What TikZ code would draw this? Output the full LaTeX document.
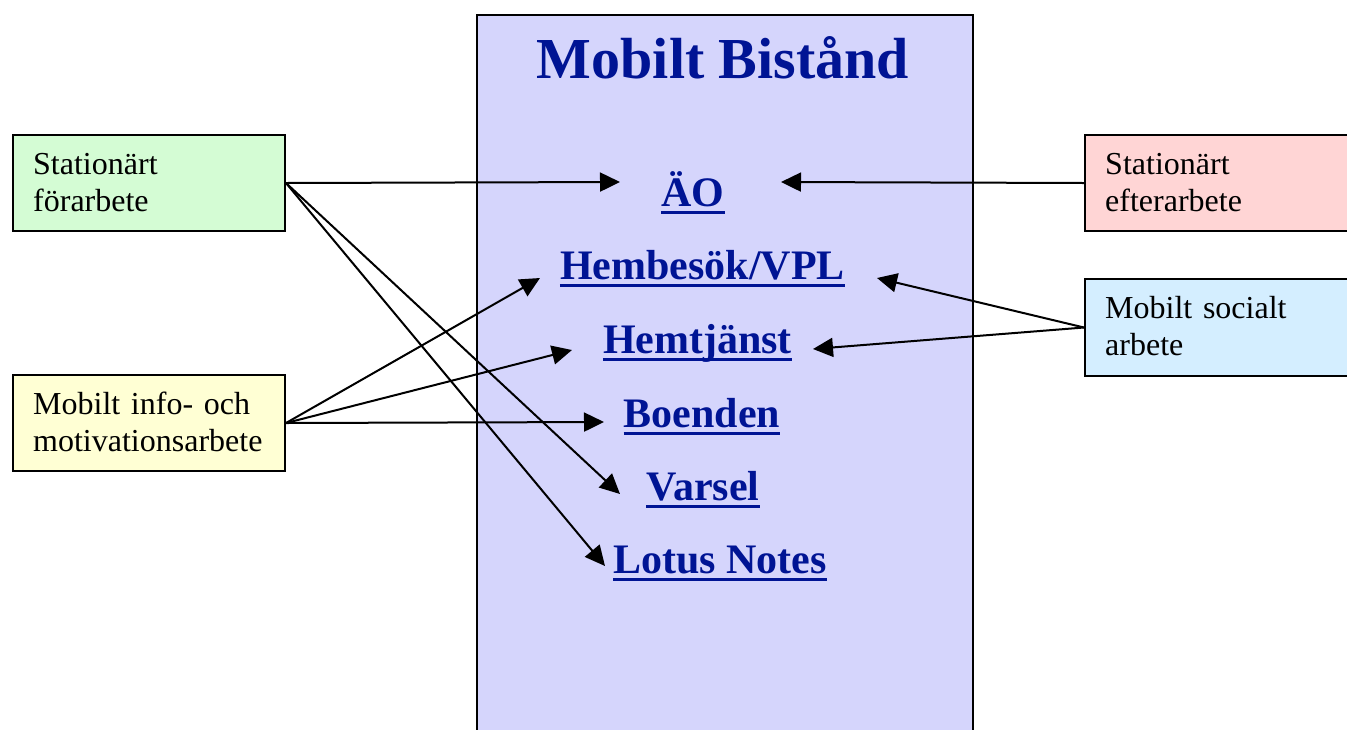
\documentclass[tikz,border=0pt]{standalone}
\usepackage{fontspec}
\setmainfont{Liberation Serif}
\usetikzlibrary{arrows.meta}
\definecolor{greenbg}{RGB}{212,252,212}
\definecolor{yellowbg}{RGB}{255,255,212}
\definecolor{pinkbg}{RGB}{255,213,213}
\definecolor{cyanbg}{RGB}{212,238,255}
\definecolor{mainbg}{RGB}{213,213,252}
\definecolor{itemblue}{RGB}{0,20,148}
\begin{document}
\begin{tikzpicture}[x=1pt,y=-1pt,
  box/.style={draw=black, line width=2pt, minimum width=272pt, minimum height=96pt, anchor=north west, inner sep=0pt},
  btxt/.style={anchor=base west, align=left, text width=250pt, inner sep=0pt, font=\fontsize{32}{37}\selectfont},
  item/.style={anchor=base, inner sep=0pt, text=itemblue, font=\fontsize{42}{48}\selectfont\bfseries},
  uline/.style={draw=itemblue, line width=3.3pt},
  conn/.style={line width=2pt, -{Triangle[length=20pt,width=19pt]}}]
\clip (0,0) rectangle (1347,729);
% main box
\node[draw=black, line width=2pt, fill=mainbg, minimum width=496pt, minimum height=760pt, anchor=north west, inner sep=0pt] (mb) at (476,14) {};
\node[anchor=base, inner sep=0pt, text=itemblue, font=\fontsize{58}{64}\selectfont\bfseries] (title) at (723,78) {Mobilt Bistånd};
% items
\node[item] (ao) at (693,206) {ÄO};
\node[item] (hb) at (702.5,279) {Hembesök/VPL};
\node[item] (ht) at (697.5,353) {Hemtjänst};
\node[item] (bo) at (702,427) {Boenden};
\node[item] (va) at (703,500) {Varsel};
\node[item] (ln) at (720,573) {Lotus Notes};
\foreach \n in {ao,hb,ht,bo,va,ln}{
  \draw[uline] ([yshift=-6.5pt]\n.base west) -- ([yshift=-6.5pt]\n.base east);
}
% side boxes
\node[box, fill=greenbg] (sf) at (12,134) {};
\node[btxt] (sft) at (33,174) {Stationärt\\förarbete};
\node[box, fill=yellowbg] (mi) at (12,374) {};
\node[btxt] (mit) at (33,414) {Mobilt info- och\\motivationsarbete};
\node[box, fill=pinkbg, minimum width=300pt] (se) at (1084,134) {};
\node[btxt] (set) at (1105,174) {Stationärt\\efterarbete};
\node[box, fill=cyanbg, minimum width=300pt, minimum height=97pt] (ms) at (1084,278) {};
\node[btxt] (mst) at (1105,318) {Mobilt socialt\\arbete};
% arrow tips
\coordinate (tAOl) at (620,182);
\coordinate (tAOr) at (781,182);
\coordinate (tHBl) at (540,278);
\coordinate (tHBr) at (877,278);
\coordinate (tHTl) at (572,350);
\coordinate (tHTr) at (813,349);
\coordinate (tBO) at (604,422);
\coordinate (tVA) at (620,494);
\coordinate (tLN) at (605,566);
% connectors
\draw[conn] (sf.east) -- (tAOl);
\draw[conn] (sf.east) -- (tVA);
\draw[conn] (sf.east) -- (tLN);
\draw[conn] (mi.east) -- (tHBl);
\draw[conn] (mi.east) -- (tHTl);
\draw[conn] (mi.east) -- (tBO);
\draw[conn] (se.west) -- (tAOr);
\draw[conn] (ms.west) -- (tHBr);
\draw[conn] (ms.west) -- (tHTr);
\end{tikzpicture}
\end{document}
